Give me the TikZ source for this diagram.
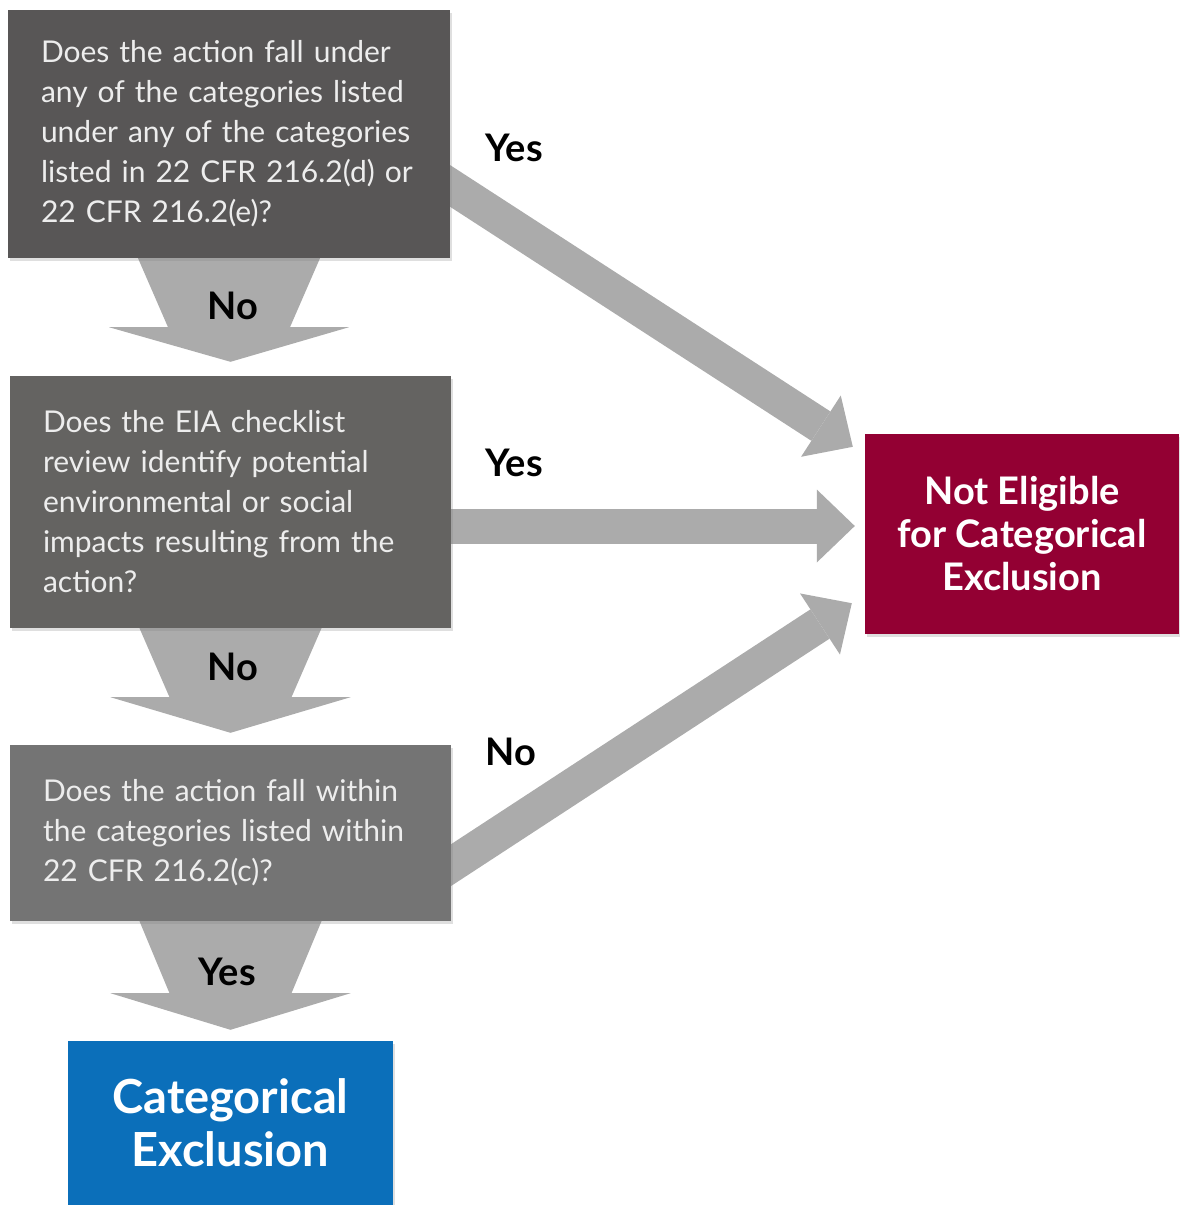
\documentclass[tikz,border=0pt]{standalone}
\usepackage{fontspec}
\setmainfont{Lato}
\usetikzlibrary{positioning, calc, arrows.meta, shadows, backgrounds}

\definecolor{qdark}{HTML}{585656}
\definecolor{qmid}{HTML}{646361}
\definecolor{qlight}{HTML}{747474}
\definecolor{arrowgray}{HTML}{ABABAB}
\definecolor{exred}{HTML}{930033}
\definecolor{exblue}{HTML}{0B6FBA}

\begin{document}
\begin{tikzpicture}[x=1pt, y=-1pt,
    question/.style={rectangle, text=white!93!black, align=left, inner xsep=33pt, inner ysep=0pt,
        font=\fontsize{30}{40}\selectfont,
        drop shadow={shadow xshift=2pt, shadow yshift=-3pt, opacity=0.25}},
    result/.style={rectangle, text=white, align=center, inner sep=0pt,
        drop shadow={shadow xshift=2pt, shadow yshift=-3pt, opacity=0.25}},
    answer/.style={font=\fontsize{38}{40}\selectfont\bfseries, text=black},
    bigarrow/.style={draw=arrowgray, line width=35pt,
        -{Triangle[length=38pt, width=73pt, line width=0pt]}}]

    %--------------------%
    % Parameters
    %--------------------%
    \def\textw{376pt}
    \def\shaft{69}
    \def\tipgap{12}

    \useasboundingbox (0,0) rectangle (1179,1205);

    %--------------------%
    % Questions
    %--------------------%
    \node[question, fill=qdark, text width=\textw, minimum height=248pt] (q1) at (229,134)
        {Does the action fall under\\any of the categories listed\\under any of the categories\\listed in 22 CFR 216.2(d) or\\22 CFR 216.2(e)?};
    \node[question, fill=qmid, text width=375pt, minimum height=252pt] (q2) at (230.5,502)
        {Does the EIA checklist\\review identify potential\\environmental or social\\impacts resulting from the\\action?};
    \node[question, fill=qlight, text width=375pt, minimum height=176pt] (q3) at (230.5,833)
        {Does the action fall within\\the categories listed within\\22 CFR 216.2(c)?};

    %--------------------%
    % Results
    %--------------------%
    \node[result, fill=exblue, minimum width=325pt, minimum height=164pt,
        font=\fontsize{47}{53}\selectfont\bfseries] (ce) at (230.5,1123) {Categorical\\Exclusion};
    \node[result, fill=exred, minimum width=314pt, minimum height=200pt,
        font=\fontsize{38}{43}\selectfont\bfseries] (ne) at (1022,534) {Not Eligible\\for Categorical\\Exclusion};

    %--------------------%
    % Connections
    %--------------------%
    \coordinate (s1) at ($(q1.east)+(0,52)$);
    \coordinate (t1) at ($(ne.north west)+(-12,13)$);
    \coordinate (s2) at ($(q2.east)+(0,24)$);
    \coordinate (t2) at ($(ne.west)+(-10,-8)$);
    \coordinate (s3) at ($(q3.east)+(0,32)$);
    \coordinate (t3) at ($(ne.south west)+(-13,-31)$);

    \begin{scope}[on background layer]
    % Questions to Not Eligible
    \draw[bigarrow] ($(s1)!-30pt!(t1)$) -- (t1);
    \draw[bigarrow] ($(s2)!-30pt!(t2)$) -- (t2);
    \draw[bigarrow] ($(s3)!-30pt!(t3)$) -- (t3);

    % Question to question
    \fill[arrowgray] ($(q1.south)+(-91,0)$) -- ($(q1.south)+(91,0)$) -- ($(q1.south)+(61,\shaft)$) -- ($(q1.south)+(120,\shaft)$)
        -- ($(q2.north)+(0,-14)$) -- ($(q1.south)+(-120,\shaft)$) -- ($(q1.south)+(-61,\shaft)$) -- cycle;
    \fill[arrowgray] ($(q2.south)+(-91,0)$) -- ($(q2.south)+(91,0)$) -- ($(q2.south)+(61,\shaft)$) -- ($(q2.south)+(120,\shaft)$)
        -- ($(q3.north)+(0,-\tipgap)$) -- ($(q2.south)+(-120,\shaft)$) -- ($(q2.south)+(-61,\shaft)$) -- cycle;
    \fill[arrowgray] ($(q3.south)+(-91,0)$) -- ($(q3.south)+(91,0)$) -- ($(q3.south)+(61,72)$) -- ($(q3.south)+(120,72)$)
        -- ($(ce.north)+(0,-11)$) -- ($(q3.south)+(-120,72)$) -- ($(q3.south)+(-61,72)$) -- cycle;
    \end{scope}

    %--------------------%
    % Answer Labels
    %--------------------%
    \node[answer] (no1) at (233,306) {No};
    \node[answer] (no2) at (233,667) {No};
    \node[answer] (yes3) at (227,972) {Yes};
    \node[answer] (yes1) at (514,148) {Yes};
    \node[answer] (yes2) at (514,463) {Yes};
    \node[answer] (no3) at (511,752) {No};

\end{tikzpicture}
\end{document}
